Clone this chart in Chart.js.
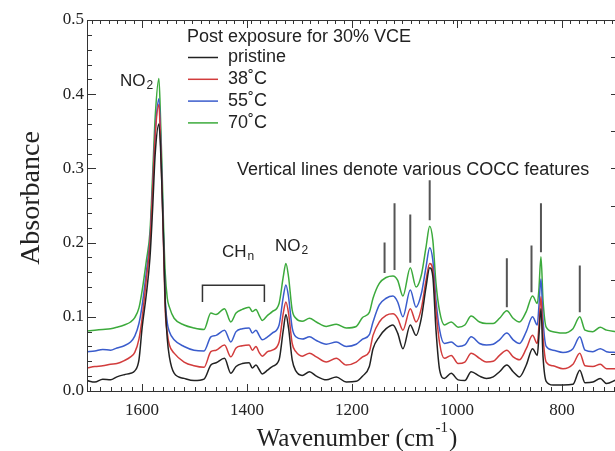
<!DOCTYPE html>
<html>
<head>
<meta charset="utf-8">
<script src="https://cdn.jsdelivr.net/npm/chart.js@4.4.1/dist/chart.umd.min.js"></script>
<style>
  html, body { margin: 0; padding: 0; background: #fff; overflow: hidden; }
</style>
</head>
<body>
<canvas id="espectro" width="618" height="451"></canvas>
<script>
// numero de onda (cm-1) e absorbancias de cada amostra
const numerosOnda = [1705, 1690, 1675, 1660, 1648, 1634, 1622, 1614, 1606, 1600, 1592, 1585, 1580, 1575, 1568, 1565, 1562, 1559, 1556, 1552, 1548, 1539, 1520, 1501, 1482, 1469, 1459, 1443, 1431, 1421, 1409, 1396, 1390, 1383, 1377, 1371, 1361, 1352, 1339, 1331, 1326, 1321, 1314, 1307, 1295, 1281, 1268, 1249, 1230, 1211, 1192, 1180, 1167, 1160, 1148, 1135, 1122, 1113, 1103, 1089, 1078, 1068, 1059, 1052, 1046, 1040, 1033, 1024, 1011, 998, 985, 973, 957, 944, 931, 919, 905, 893, 881, 868, 856, 847, 844, 840, 836, 830, 817, 798, 779, 766, 756, 741, 727, 715, 697];

const pristine = [0.014, 0.012, 0.016, 0.015, 0.019, 0.022, 0.024, 0.027, 0.042, 0.085, 0.130, 0.180, 0.245, 0.320, 0.360, 0.330, 0.270, 0.200, 0.120, 0.070, 0.046, 0.024, 0.017, 0.014, 0.016, 0.035, 0.038, 0.044, 0.024, 0.033, 0.037, 0.038, 0.031, 0.035, 0.029, 0.023, 0.028, 0.033, 0.042, 0.082, 0.103, 0.085, 0.042, 0.027, 0.021, 0.026, 0.020, 0.015, 0.019, 0.012, 0.013, 0.020, 0.033, 0.057, 0.073, 0.084, 0.089, 0.078, 0.057, 0.089, 0.075, 0.098, 0.140, 0.166, 0.154, 0.082, 0.028, 0.017, 0.024, 0.015, 0.014, 0.026, 0.020, 0.017, 0.019, 0.026, 0.035, 0.026, 0.019, 0.035, 0.057, 0.048, 0.073, 0.111, 0.046, 0.013, 0.008, 0.008, 0.009, 0.028, 0.011, 0.012, 0.017, 0.010, 0.015];

const amostra38 = [0.031, 0.033, 0.034, 0.036, 0.037, 0.041, 0.046, 0.052, 0.070, 0.098, 0.150, 0.200, 0.270, 0.345, 0.386, 0.340, 0.270, 0.190, 0.110, 0.078, 0.062, 0.051, 0.039, 0.034, 0.032, 0.053, 0.055, 0.062, 0.046, 0.058, 0.061, 0.062, 0.055, 0.060, 0.052, 0.047, 0.053, 0.055, 0.066, 0.105, 0.120, 0.105, 0.064, 0.053, 0.047, 0.051, 0.046, 0.039, 0.044, 0.035, 0.039, 0.046, 0.053, 0.075, 0.093, 0.102, 0.104, 0.098, 0.082, 0.111, 0.093, 0.111, 0.149, 0.172, 0.163, 0.109, 0.064, 0.044, 0.048, 0.037, 0.039, 0.051, 0.044, 0.039, 0.040, 0.048, 0.055, 0.046, 0.042, 0.057, 0.075, 0.064, 0.086, 0.127, 0.073, 0.039, 0.034, 0.030, 0.036, 0.051, 0.034, 0.033, 0.036, 0.030, 0.030];

const amostra55 = [0.053, 0.054, 0.056, 0.055, 0.058, 0.061, 0.066, 0.074, 0.091, 0.115, 0.160, 0.205, 0.275, 0.350, 0.394, 0.350, 0.280, 0.200, 0.125, 0.092, 0.080, 0.069, 0.060, 0.055, 0.054, 0.073, 0.075, 0.082, 0.066, 0.080, 0.084, 0.085, 0.078, 0.082, 0.075, 0.069, 0.073, 0.078, 0.089, 0.127, 0.143, 0.127, 0.085, 0.073, 0.070, 0.073, 0.068, 0.063, 0.066, 0.060, 0.063, 0.070, 0.076, 0.093, 0.116, 0.125, 0.128, 0.120, 0.100, 0.136, 0.113, 0.131, 0.167, 0.193, 0.176, 0.122, 0.082, 0.064, 0.066, 0.060, 0.062, 0.073, 0.064, 0.062, 0.063, 0.069, 0.078, 0.069, 0.064, 0.080, 0.100, 0.089, 0.113, 0.151, 0.095, 0.060, 0.055, 0.052, 0.057, 0.073, 0.055, 0.053, 0.057, 0.053, 0.052];

const amostra70 = [0.081, 0.082, 0.083, 0.084, 0.086, 0.089, 0.093, 0.099, 0.112, 0.135, 0.175, 0.215, 0.290, 0.370, 0.421, 0.370, 0.300, 0.220, 0.160, 0.125, 0.113, 0.098, 0.089, 0.085, 0.083, 0.105, 0.103, 0.111, 0.093, 0.105, 0.110, 0.113, 0.107, 0.110, 0.102, 0.095, 0.102, 0.107, 0.118, 0.154, 0.172, 0.154, 0.109, 0.098, 0.094, 0.098, 0.093, 0.087, 0.090, 0.085, 0.087, 0.099, 0.106, 0.125, 0.145, 0.153, 0.155, 0.149, 0.128, 0.166, 0.140, 0.156, 0.194, 0.222, 0.203, 0.145, 0.107, 0.089, 0.093, 0.086, 0.089, 0.101, 0.093, 0.091, 0.091, 0.098, 0.108, 0.098, 0.093, 0.107, 0.128, 0.118, 0.136, 0.181, 0.122, 0.086, 0.080, 0.078, 0.084, 0.100, 0.082, 0.080, 0.086, 0.082, 0.080];

const rotulos = ['pristine', '38˚C', '55˚C', '70˚C'];
const cores = ['#222222', '#d23c3c', '#3a5ccc', '#3caa3c'];

const ticksX = [1600, 1400, 1200, 1000, 800];
const ticksY = [0.0, 0.1, 0.2, 0.3, 0.4, 0.5];

// linhas verticais das bandas COCC (posicao, inicio e fim em absorbancia)
const linhasCOCC = [1138, 1119, 1089, 1052, 905, 858, 840, 766];
const coccTopo = [0.200, 0.253, 0.238, 0.284, 0.179, 0.196, 0.253, 0.169];
const coccBase = [0.159, 0.163, 0.173, 0.230, 0.113, 0.133, 0.187, 0.106];

// colchete da regiao CHn
const chInicio = 1485, chFim = 1367, chTopo = 0.1425, chBase = 0.120;

const serif = "'Liberation Serif', 'Times New Roman', serif";
const sans = "'Liberation Sans', Arial, sans-serif";

function textoIndice(ctx, base, indice, x, y, tam) {
  ctx.font = tam + 'px ' + sans;
  ctx.fillText(base, x, y);
  const w = ctx.measureText(base).width;
  ctx.font = Math.round(tam * 0.72) + 'px ' + sans;
  ctx.fillText(indice, x + w + 1, y + tam * 0.28);
}

const anotacoes = {
  id: 'anotacoes',
  afterDatasetsDraw(chart) {
    const { ctx, chartArea: a, scales: { x, y } } = chart;
    ctx.save();

    // moldura e marcas para dentro
    ctx.strokeStyle = '#333';
    ctx.lineWidth = 1;
    ctx.strokeRect(a.left + 0.5, a.top + 0.5, a.right - a.left, a.bottom - a.top);
    ctx.beginPath();
    for (let w = 700; w <= 1700; w += 20) {
      const px = Math.round(x.getPixelForValue(w)) + 0.5;
      const len = w % 200 === 0 ? 7 : 4;
      ctx.moveTo(px, a.bottom); ctx.lineTo(px, a.bottom - len);
    }
    for (let w = 704; w <= 1700; w += 16) {
      const px = Math.round(x.getPixelForValue(w)) + 0.5;
      ctx.moveTo(px, a.top); ctx.lineTo(px, a.top + 4);
    }
    ticksX.forEach(w => {
      const px = Math.round(x.getPixelForValue(w)) + 0.5;
      ctx.moveTo(px, a.top); ctx.lineTo(px, a.top + 8);
    });
    for (let i = 0; i <= 25; i++) {
      const py = Math.round(y.getPixelForValue(i * 0.02)) + 0.5;
      const len = i % 5 === 0 ? 9 : 5;
      ctx.moveTo(a.left, py); ctx.lineTo(a.left + len, py);
    }
    for (let i = 0; i <= 10; i++) {
      const py = Math.round(y.getPixelForValue(i * 0.05)) + 0.5;
      ctx.moveTo(a.right, py); ctx.lineTo(a.right - 5, py);
    }
    ctx.stroke();

    // linhas COCC
    ctx.strokeStyle = '#555';
    ctx.lineWidth = 2;
    ctx.beginPath();
    linhasCOCC.forEach((w, i) => {
      const px = x.getPixelForValue(w);
      ctx.moveTo(px, y.getPixelForValue(coccTopo[i]));
      ctx.lineTo(px, y.getPixelForValue(coccBase[i]));
    });
    ctx.stroke();

    // colchete CHn
    ctx.strokeStyle = '#333';
    ctx.lineWidth = 1.5;
    ctx.beginPath();
    ctx.moveTo(x.getPixelForValue(chInicio), y.getPixelForValue(chBase));
    ctx.lineTo(x.getPixelForValue(chInicio), y.getPixelForValue(chTopo));
    ctx.lineTo(x.getPixelForValue(chFim), y.getPixelForValue(chTopo));
    ctx.lineTo(x.getPixelForValue(chFim), y.getPixelForValue(chBase));
    ctx.stroke();

    // textos
    ctx.fillStyle = '#222';
    ctx.textBaseline = 'middle';
    ctx.textAlign = 'left';
    ctx.font = '18px ' + sans;
    ctx.fillText('Post exposure for 30% VCE', 187, 37);
    ctx.fillText('Vertical lines denote various COCC features', 237, 170);

    textoIndice(ctx, 'NO', '2', 120, 81, 17);
    textoIndice(ctx, 'CH', 'n', 222, 252, 17);
    textoIndice(ctx, 'NO', '2', 275, 246, 17);

    // legenda
    chart.data.datasets.forEach((ds, i) => {
      const yy = 57.5 + i * 21.8;
      ctx.strokeStyle = ds.borderColor;
      ctx.lineWidth = 1.5;
      ctx.beginPath();
      ctx.moveTo(188, yy); ctx.lineTo(218, yy);
      ctx.stroke();
      ctx.font = '18px ' + sans;
      ctx.fillText(ds.label, 228, yy);
    });

    // titulos dos eixos
    ctx.textBaseline = 'alphabetic';
    ctx.font = '25px ' + serif;
    const t1 = 'Wavenumber (cm', t2 = '-1', t3 = ')';
    const w1 = ctx.measureText(t1).width;
    ctx.font = '15px ' + serif;
    const w2 = ctx.measureText(t2).width;
    ctx.font = '25px ' + serif;
    const w3 = ctx.measureText(t3).width;
    const xt = 357 - (w1 + w2 + w3 + 2) / 2;
    ctx.fillText(t1, xt, 446);
    ctx.font = '15px ' + serif;
    ctx.fillText(t2, xt + w1 + 1, 432);
    ctx.font = '25px ' + serif;
    ctx.fillText(t3, xt + w1 + w2 + 2, 446);

    ctx.font = '28px ' + serif;
    ctx.translate(39, 198);
    ctx.rotate(-Math.PI / 2);
    ctx.textAlign = 'center';
    ctx.fillText('Absorbance', 0, 0);
    ctx.restore();
  }
};

const series = [pristine, amostra38, amostra55, amostra70];

new Chart(document.getElementById('espectro'), {
  type: 'line',
  data: {
    datasets: series.map((valores, i) => ({
      label: rotulos[i],
      data: numerosOnda.map((w, k) => ({ x: w, y: valores[k] })),
      borderColor: cores[i],
      borderWidth: 1.5,
      pointRadius: 0,
      cubicInterpolationMode: 'monotone',
      fill: false
    }))
  },
  options: {
    responsive: false,
    devicePixelRatio: 1,
    animation: false,
    layout: { padding: { top: 20, right: 2, left: 0, bottom: 0 } },
    plugins: { legend: { display: false }, tooltip: { enabled: false } },
    scales: {
      x: {
        type: 'linear',
        reverse: true,
        min: 697,
        max: 1705,
        grid: { display: false, drawTicks: false },
        border: { display: false },
        afterBuildTicks: s => { s.ticks = ticksX.map(v => ({ value: v })); },
        afterFit: s => { s.height = 60; },
        ticks: { color: '#222', padding: 9, maxRotation: 0, font: { family: serif, size: 17 }, callback: v => String(v) }
      },
      y: {
        min: 0,
        max: 0.5,
        grid: { display: false, drawTicks: false },
        border: { display: false },
        afterBuildTicks: s => { s.ticks = ticksY.map(v => ({ value: v })); },
        afterFit: s => { s.width = 87; },
        ticks: { color: '#222', padding: 3, font: { family: serif, size: 17 }, callback: v => v.toFixed(1) }
      }
    }
  },
  plugins: [anotacoes]
});
</script>
</body>
</html>
